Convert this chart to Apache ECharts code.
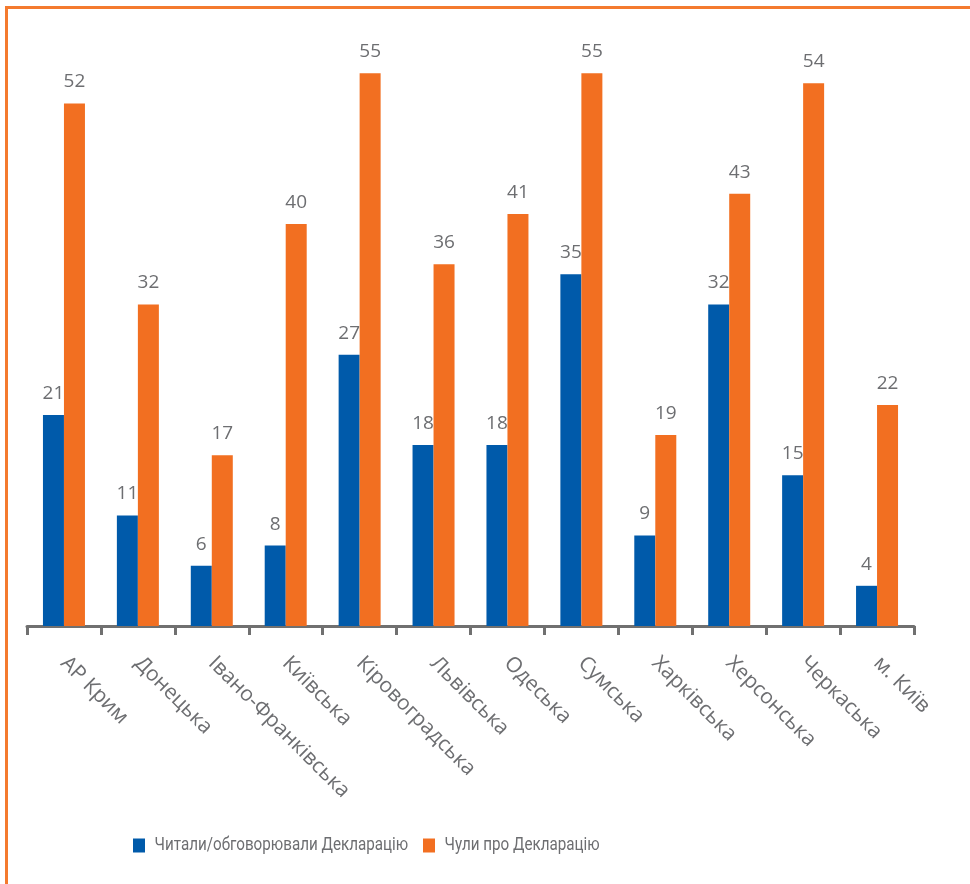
<!DOCTYPE html>
<html><head><meta charset="utf-8">
<script src="https://cdn.jsdelivr.net/npm/echarts@6/dist/echarts.min.js"></script>
<style>html,body{margin:0;padding:0;background:#fff}#c{width:970px;height:884px}</style>
</head><body><div id="c"></div>
<script>
const categories = ['АР Крим','Донецька','Івано-Франківська','Київська','Кіровоградська','Львівська','Одеська','Сумська','Харківська','Херсонська','Черкаська','м. Київ'];
const seriesNames = ['Читали/обговорювали Декларацію','Чули про Декларацію'];
const readValues = [21, 11, 6, 8, 27, 18, 18, 35, 9, 32, 15, 4];
const heardValues = [52, 32, 17, 40, 55, 36, 41, 55, 19, 43, 54, 22];
const colors = ['#005aaa', '#f26f21'];

const gray = '#6d6e71';
const font = 'Open Sans';
const chart = echarts.init(document.getElementById('c'), null, {renderer:'canvas'});
const labelStyle = {show:true, position:'top', distance:12, color:gray, fontSize:19, fontFamily:font};

function legendItem(x, textW, name, color) {
  return {
    type:'group', left:x, top:836,
    children:[
      {type:'rect', shape:{x:0, y:1, width:12, height:14}, style:{fill:color}},
      {type:'text', x:18, y:8, scaleX:0.80, originX:18,
       style:{text:name, fill:gray, font:'19px Roboto', textVerticalAlign:'middle', verticalAlign:'middle'}}
    ]
  };
}

chart.setOption({
  animation:false,
  backgroundColor:'#fff',
  grid:{left:27, right:56, top:23, bottom:258, containLabel:false},
  legend:{show:false, data:seriesNames},
  xAxis:{
    type:'category', data:categories,
    axisLine:{lineStyle:{color:'#707070', width:3}},
    axisTick:{show:true, length:9, lineStyle:{color:'#707070', width:3}},
    axisLabel:{rotate:-45, margin:34, color:gray, fontSize:21, fontFamily:font, interval:0}
  },
  yAxis:{type:'value', min:0, max:60, show:false, splitLine:{show:false}},
  series:[
    {name:seriesNames[0], type:'bar', data:readValues, barWidth:21, barGap:'0%', itemStyle:{color:colors[0]}, label:labelStyle},
    {name:seriesNames[1], type:'bar', data:heardValues, barWidth:21, barGap:'0%', itemStyle:{color:colors[1]}, label:labelStyle}
  ],
  graphic:[
    {type:'line', shape:{x1:5, y1:7.5, x2:970, y2:7.5}, style:{stroke:'#f47a2e', lineWidth:3}},
    {type:'line', shape:{x1:6.5, y1:6, x2:6.5, y2:884}, style:{stroke:'#f47a2e', lineWidth:3}},
    legendItem(133, 254, seriesNames[0], colors[0]),
    legendItem(423, 156, seriesNames[1], colors[1])
  ]
});
</script></body></html>
